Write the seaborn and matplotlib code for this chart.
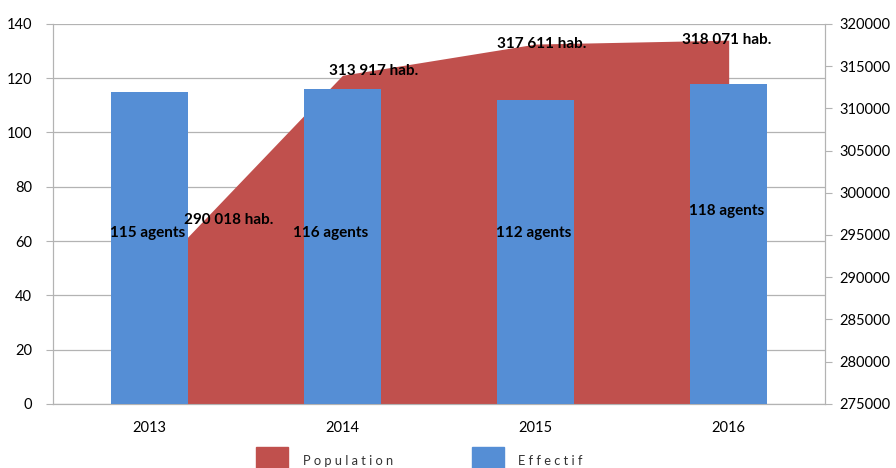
import matplotlib
matplotlib.use("Agg")
import matplotlib.pyplot as plt
import seaborn as sns
import numpy as np
from matplotlib.patches import Patch

years = ["2013", "2014", "2015", "2016"]
effectif = [115, 116, 112, 118]
population = [290018, 313917, 317611, 318071]
agent_labels = ["115 agents", "116 agents", "112 agents", "118 agents"]
pop_labels = ["290 018 hab.", "313 917 hab.", "317 611 hab.", "318 071 hab."]

RED = "#C0504D"
BLUE = "#558ED5"
GRID = "#B3B3B3"

sns.set_style("white")
plt.rcParams["font.family"] = ["Lato", "DejaVu Sans"]
plt.rcParams["text.color"] = "black"

fig = plt.figure(figsize=(8.96, 4.68), dpi=100)
ax = fig.add_axes([0.059, 0.137, 0.862, 0.812])
ax2 = ax.twinx()   # population area (right axis)
ax3 = ax.twinx()   # bars, same scale as left axis

x = np.arange(len(years))

# population area behind the bars
ax2.fill_between(x, population, 275000, color=RED, lw=0, zorder=1)
ax2.set_ylim(275000, 320000)
ax2.set_yticks(np.arange(275000, 320001, 5000))

# bars
sns.barplot(x=years, y=effectif, ax=ax3, color=BLUE, width=0.4, saturation=1,
            linewidth=0, edgecolor=BLUE)
ax3.set_ylim(0, 140)
ax3.set_yticks([])
ax3.set_ylabel("")
for s in ax3.spines.values():
    s.set_visible(False)

# left axis + grid
ax.set_ylim(0, 140)
ax.set_yticks(np.arange(0, 141, 20))
ax.yaxis.grid(True, color=GRID, lw=0.9)
ax.set_axisbelow(True)

for a in (ax, ax2, ax3):
    a.set_xlim(-0.5, 3.5)

ax.set_xticks(x)
ax.set_xticklabels(years)
ax.set_xticks([-0.5, 0.5, 1.5, 2.5, 3.5], minor=True)
ax.tick_params(axis="x", which="major", length=0, pad=12, labelsize=10.5, labelcolor="black")
ax.tick_params(axis="x", which="minor", length=5, color=GRID, direction="out")
ax.tick_params(axis="y", length=5, color=GRID, direction="out", labelsize=10.5, pad=10,
               labelcolor="black")
ax2.tick_params(axis="y", length=5, color=GRID, direction="out", labelsize=10.5, pad=5,
                labelcolor="black")
ax3.tick_params(axis="x", length=0, labelbottom=False)
ax3.set_xlabel("")

for a in (ax, ax2):
    a.spines["top"].set_visible(False)
    for k in ("left", "right", "bottom"):
        a.spines[k].set_color(GRID)

# value labels
agent_y = [63, 63, 63, 71]
agent_x = [0, 0.95, 2.0, 3.0]
for xi, yi, t in zip(agent_x, agent_y, agent_labels):
    ax3.text(xi - 0.01, yi, t, ha="center", va="center", fontsize=11,
             fontweight="bold", color="black")

pop_pos_x = [0.41, 1.16, 2.03, 2.99]
pop_pos_y = [67.8, 122.7, 132.6, 134.0]
for xi, yi, t in zip(pop_pos_x, pop_pos_y, pop_labels):
    ax3.text(xi, yi, t, ha="center", va="center", fontsize=11,
             fontweight="bold", color="black")

# legend (squares partly cut by the bottom edge, as in the original)
handles = [Patch(color=RED, label="P o p u l a t i o n"),
           Patch(color=BLUE, label="E f f e c t i f")]
leg = fig.legend(handles=handles, loc="upper center", bbox_to_anchor=(0.468, 0.073),
                 ncol=2, frameon=False, handlelength=2.2, handleheight=2.4,
                 columnspacing=5.4, handletextpad=1.0, fontsize=10.5)
for t in leg.get_texts():
    t.set_color("#333333")
    t.set_fontsize(9.3)

fig.savefig("out.png", dpi=100)
